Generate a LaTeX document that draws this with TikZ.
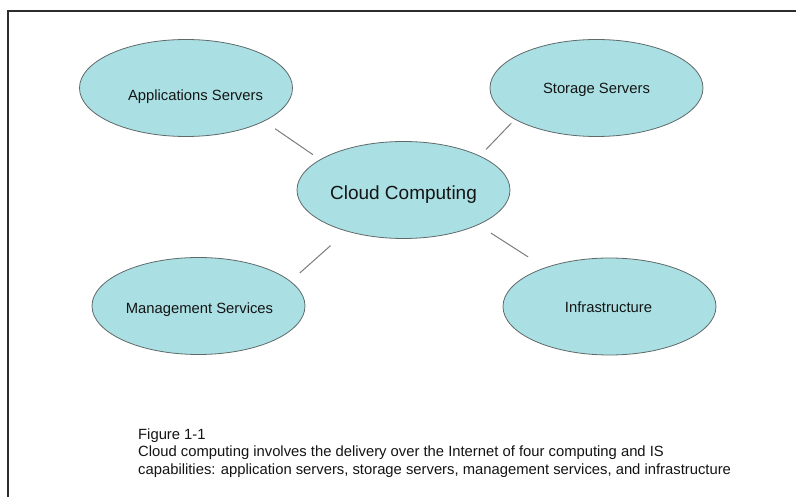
\documentclass[tikz,border=0pt]{standalone}
\usepackage{fontspec}
\setmainfont{Liberation Sans}
\usetikzlibrary{shapes.geometric}
\definecolor{cloudfill}{RGB}{170,224,228}
\definecolor{cloudedge}{RGB}{95,105,105}
\definecolor{connline}{RGB}{125,125,125}
\definecolor{frameline}{RGB}{45,45,45}
\definecolor{txt}{RGB}{20,20,20}
\tikzset{
  bubble/.style={ellipse, draw=cloudedge, fill=cloudfill, line width=0.8pt,
    minimum width=213pt, minimum height=97pt, inner sep=0pt, outer sep=0pt},
  lbl/.style={text=txt, inner sep=0pt, text height=10pt, text depth=0pt,
    font=\fontsize{14.8}{16}\selectfont},
  biglbl/.style={lbl, text height=13pt, font=\fontsize{19}{21}\selectfont},
  conn/.style={draw=connline, line width=1pt},
  captxt/.style={anchor=base west, inner sep=0pt, text=txt, font=\fontsize{14.8}{18}\selectfont}
}
\begin{document}
\begin{tikzpicture}[x=1pt, y=-1pt]
\useasboundingbox (0,0) rectangle (796,497);
\fill[white] (0,0) rectangle (796,497);
\draw[frameline, line width=1.5pt] (8,497) -- (8,11) -- (796,11);

\node[bubble, label={[lbl, xshift=9.5pt, yshift=-7.5pt]center:Applications Servers}] (app) at (186,88) {};
\node[bubble, label={[lbl, yshift=-0.5pt]center:Storage Servers}] (stor) at (596.5,88) {};
\node[bubble, label={[biglbl, yshift=-3.4pt]center:Cloud Computing}] (cloud) at (403.5,190) {};
\node[bubble, label={[lbl, xshift=1pt, yshift=-2.5pt]center:Management Services}] (mgmt) at (198.5,306) {};
\node[bubble, label={[lbl, xshift=-1pt, yshift=-1pt]center:Infrastructure}] (infra) at (609.5,306.5) {};

\draw[conn, shorten <=13.5pt, shorten >=9pt] (app.-23.8) -- (cloud.160.2);
\draw[conn, shorten <=5.5pt, shorten >=9.2pt] (stor.-159.3) -- (cloud.24.8);
\draw[conn, shorten <=22pt, shorten >=12.7pt] (cloud.-144) -- (mgmt.15.9);
\draw[conn, shorten <=15.5pt, shorten >=20.3pt] (cloud.-25.2) -- (infra.149);

\node[captxt] (cap1) at (138,439) {Figure 1-1};
\node[captxt] (cap2) at (138,456) {Cloud computing involves the delivery over the Internet of four computing and IS};
\node[captxt] (cap3) at (138,474) {capabilities: application servers, storage servers, management services, and infrastructure};
\end{tikzpicture}
\end{document}
